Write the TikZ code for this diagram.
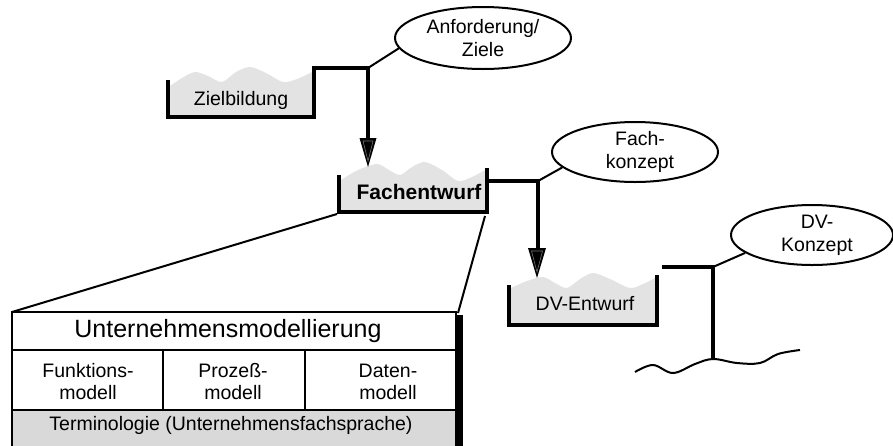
\documentclass[tikz,border=0pt]{standalone}
\usepackage{fontspec}
\setmainfont{Liberation Sans}
\usetikzlibrary{shapes.geometric}
\tikzset{
  wall/.style={line width=4.5pt, line join=miter},
  thickline/.style={line width=4.5pt},
  thinline/.style={line width=2pt},
  water/.style={fill=black!11, draw=none},
  txt/.style={inner sep=0pt, align=center, font=\fontsize{19.5}{23}\selectfont},
  oval/.style={ellipse, draw, line width=2pt, inner sep=0pt, align=center,
    font=\fontsize{19.5}{23}\selectfont},
  boxline/.style={line width=2pt},
  headfill/.style={fill=black},
  headinner/.style={draw=black!55, line width=0.6pt},
}
\begin{document}
\begin{tikzpicture}[x=1pt,y=-1pt]
\useasboundingbox (0,0) rectangle (893,445);
\clip (0,0) rectangle (893,445);

% ---------- Zielbildung tank ----------
\fill[water] plot[smooth] coordinates {(170,86) (182,78) (195,72) (208,76) (222,82) (236,72) (250,67) (266,73) (283,82) (297,79) (312,72)}
  -- (312,115) -- (170,115) -- cycle;
\draw[wall] (168,80) -- (168,117) -- (314,117) -- (314,66);
\node[txt] (zb) at (241,100) {Zielbildung};

% ---------- Fachentwurf tank ----------
\fill[water] plot[smooth] coordinates {(341,180) (358,170) (377,164) (389,170) (400,175) (412,167) (425,162) (442,170) (458,181) (472,177) (485,170)}
  -- (485,210) -- (341,210) -- cycle;
\draw[wall] (339,175) -- (339,212) -- (487,212) -- (487,168);
\node[txt, font=\fontsize{21}{24}\selectfont\bfseries] (fe) at (419,192) {Fachentwurf};

% ---------- DV-Entwurf tank ----------
\fill[water] plot[smooth] coordinates {(511,288) (527,281) (543,277) (555,283) (567,288) (580,279) (593,273) (610,279) (630,288) (643,284) (655,278)}
  -- (655,323) -- (511,323) -- cycle;
\draw[wall] (509,285) -- (509,325) -- (657,325) -- (657,275);
\node[txt] (dve) at (585,304) {DV-Entwurf};

% ---------- ellipses ----------
\node[oval, minimum width=176pt, minimum height=62pt] (af) at (483,38) {Anforderung/\\Ziele};
\node[oval, minimum width=166pt, minimum height=60pt] (fk) at (635,152) {\hspace*{10pt}Fach-\\\hspace*{10pt}konzept};
\node[oval, minimum width=162pt, minimum height=60pt] (dk) at (812,235) {\hspace*{10pt}DV-\\\hspace*{10pt}Konzept};

% ---------- connector 1 : Zielbildung -> Fachentwurf ----------
\coordinate (z1) at (314,68);
\coordinate (j1) at (368,68);
\coordinate (h1) at (368,138);
\coordinate (t1) at (368,167);
\draw[thickline] (z1) -- (j1) -- (h1);
\draw[thinline] (j1) -- (af.187);
\fill[headfill] ([xshift=-8.5pt]h1) -- ([xshift=8.5pt]h1) -- (t1) -- cycle;
\draw[headinner] ([xshift=-5pt,yshift=-3pt]h1) -- ([xshift=5pt,yshift=-3pt]h1) -- ([yshift=6pt]t1) -- cycle;

% ---------- connector 2 : Fachentwurf -> DV-Entwurf ----------
\coordinate (f1) at (487,181);
\coordinate (j2) at (538,181);
\coordinate (h2) at (537,248);
\coordinate (t2) at (537,278);
\draw[thickline] (f1) -- (j2) -- (538,248);
\draw[thinline] (j2) -- (fk.192);
\fill[headfill] ([xshift=-9pt]h2) -- ([xshift=9pt]h2) -- (t2) -- cycle;
\draw[headinner] ([xshift=-5.5pt,yshift=-3pt]h2) -- ([xshift=5.5pt,yshift=-3pt]h2) -- ([yshift=6pt]t2) -- cycle;

% ---------- connector 3 : DV-Entwurf -> ground ----------
\coordinate (d1) at (662,267);
\coordinate (j3) at (713,267);
\coordinate (g3) at (713,360);
\draw[thickline] (d1) -- (j3) -- (g3);
\draw[thinline] (j3) -- (dk.195);
\draw[thinline] plot[smooth, tension=0.6] coordinates {(635,372) (653,365) (673,373) (695,364) (713,359) (737,363) (760,363) (778,354) (800,350)};

% ---------- zoom lines ----------
\coordinate (bl) at (12,312);
\coordinate (br) at (458,313);
\coordinate (fl) at (337,214);
\coordinate (fr) at (485,216);
\draw[thinline] (bl) -- (fl);
\draw[thinline] (br) -- (fr);

% ---------- Unternehmensmodellierung box ----------
\fill[black!15] (12,410) rectangle (456,450);
\fill[black] (456,315) rectangle (463,450);
\draw[boxline] (12,450) -- (12,312) -- (456,312) -- (456,450);
\draw[boxline] (12,350) -- (456,350);
\draw[boxline] (12,410) -- (456,410);
\draw[boxline] (163,350) -- (163,410);
\draw[boxline] (305,350) -- (305,410);

\node[txt, font=\fontsize{25}{28}\selectfont] (um) at (228,331) {Unternehmensmodellierung};
\node[txt, font=\fontsize{19.5}{22}\selectfont] (fm) at (88,382) {Funktions-\\modell};
\node[txt, font=\fontsize{19.5}{22}\selectfont] (pm) at (233,382) {Prozeß-\\modell};
\node[txt, font=\fontsize{19.5}{22}\selectfont] (dm) at (388,382) {Daten-\\modell};
\node[txt] (tm) at (231,425) {Terminologie (Unternehmensfachsprache)};
\end{tikzpicture}
\end{document}
